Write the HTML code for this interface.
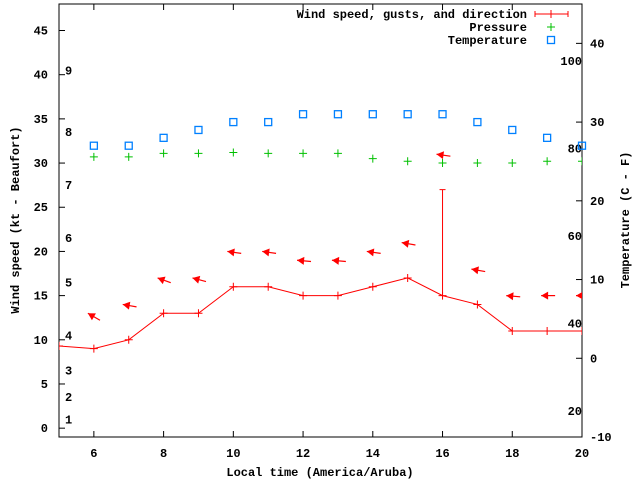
<!DOCTYPE html>
<html><head><meta charset="utf-8"><style>
body{margin:0;background:#fff}
svg{display:block;font-family:"Liberation Mono",monospace;font-size:12px;font-weight:bold}
</style></head><body>
<svg id="c" width="640" height="480"></svg>
<script>
const hours=[4,5,6,7,8,9,10,11,12,13,14,15,16,17,18,19,20];
const windSpeed=[9.6,9.3,9,10,13,13,16,16,15,15,16,17,15,14,11,11,11];
const gustHours=[16];
const gustValues=[27];
const arrowHours=[6,7,8,9,10,11,12,13,14,15,16,17,18,19,20];
const arrowLevels=[13,14,17,17,20,20,19,19,20,21,31,18,15,15,15];
const arrowAngles=[30,10,20,15,8,8,5,5,8,10,8,10,5,0,0];
const pressHours=[6,7,8,9,10,11,12,13,14,15,16,17,18,19,20];
const pressure=[30.7,30.7,31.1,31.1,31.2,31.1,31.1,31.1,30.5,30.2,30.0,30.0,30.0,30.2,30.2];
const tempC=[27,27,28,29,30,30,31,31,31,31,31,30,29,28,27];
const xTicks=[6,8,10,12,14,16,18,20];
const yTicks=[0,5,10,15,20,25,30,35,40,45];
const y2Ticks=[-10,0,10,20,30,40];
const beaufortLabels=["1","2","3","4","5","6","7","8","9"];
const beaufortKt=[1,3.5,6.5,10.5,16.5,21.5,27.5,33.5,40.5];
const fLabels=[20,40,60,80,100];

const L=59,R=582,T=4,B=437;
const X=v=>L+(v-5)/(20-5)*(R-L);
const Y=v=>B-(v+1)/(48+1)*(B-T);
const Y2=v=>B-(v+10)/(45+10)*(B-T);
const YF=f=>Y2((f-32)*5/9);
const svg=document.getElementById('c');
const NS='http://www.w3.org/2000/svg';
function el(tag,attrs,parent){const e=document.createElementNS(NS,tag);for(const k in attrs)e.setAttribute(k,attrs[k]);(parent||svg).appendChild(e);return e;}
function txt(x,y,s,anchor,name,parent){const t=el('text',{x:x,y:y,'text-anchor':anchor||'middle'},parent);t.textContent=s;


return t;}

const defs=el('defs',{});
const cp=el('clipPath',{id:'clip'},defs);el('rect',{x:L,y:T,width:R-L,height:B-T},cp);

// frame
const frame=el('rect',{x:L,y:T,width:R-L,height:B-T,fill:'none',stroke:'#000','stroke-width':1});



xTicks.forEach(v=>{const x=X(v);
el('line',{x1:x,y1:B,x2:x,y2:B-6,stroke:'#000'});el('line',{x1:x,y1:T,x2:x,y2:T+6,stroke:'#000'});
txt(x,457,String(v),'middle','x-tick-label');});
yTicks.forEach(v=>{const y=Y(v);el('line',{x1:L,y1:y,x2:L+6,y2:y,stroke:'#000'});
txt(48,y+4,String(v),'end','y-tick-label');});
y2Ticks.forEach(v=>{const y=Y2(v);el('line',{x1:R,y1:y,x2:R-6,y2:y,stroke:'#000'});
txt(590,y+4,String(v),'start','y2-tick-label');});
beaufortLabels.forEach((s,i)=>txt(65,Y(beaufortKt[i])+4,s,'start','beaufort-label'));
fLabels.forEach(f=>txt(582,YF(f)+4,String(f),'end','fahrenheit-label'));

// titles
let t=txt(0,0,'Wind speed (kt - Beaufort)','middle','y-axis-title');t.setAttribute('transform','translate(19,220) rotate(-90)');
t=txt(0,0,'Temperature (C - F)','middle','y2-axis-title');t.setAttribute('transform','translate(629,220) rotate(-90)');
txt(320,476,'Local time (America/Aruba)','middle','x-axis-title');

const g=el('g',{'clip-path':'url(#clip)'});
// wind line
const pl=el('polyline',{points:hours.map((h,i)=>X(h)+','+Y(windSpeed[i])).join(' '),fill:'none',stroke:'#f00','stroke-width':1},g);


hours.forEach((h,i)=>{const x=X(h),y=Y(windSpeed[i]);
el('path',{d:`M${x-4},${y}h8M${x},${y-4}v8`,stroke:'#f00'},g);});
gustHours.forEach((h,i)=>{const x=X(h);const idx=hours.indexOf(h);
const gl=el('path',{d:`M${x},${Y(windSpeed[idx])}V${Y(gustValues[i])}M${x-3},${Y(gustValues[i])}h6`,stroke:'#f00'},g);

});
// arrows
arrowHours.forEach((h,i)=>{const a=arrowAngles[i]*Math.PI/180;const hx=X(h)-6,hy=Y(arrowLevels[i]);
const len=14;const tx=hx+len*Math.cos(a),ty=hy+len*Math.sin(a);
const ar=el('g',{},g);


el('line',{x1:hx,y1:hy,x2:tx,y2:ty,stroke:'#f00','stroke-width':1.2},ar);
const px=-Math.sin(a),py=Math.cos(a),cx=Math.cos(a),cy=Math.sin(a);
el('polygon',{points:`${hx},${hy} ${hx+7*cx+4*px},${hy+7*cy+4*py} ${hx+7*cx-4*px},${hy+7*cy-4*py}`,fill:'#f00'},ar);});
// pressure
pressHours.forEach((h,i)=>{const x=X(h),y=Y(pressure[i]);
const p=el('path',{d:`M${x-4},${y}h8M${x},${y-4}v8`,stroke:'#00c000','stroke-width':1},g);

});
// temperature
pressHours.forEach((h,i)=>{const x=X(h),y=Y2(tempC[i]);
const r=el('rect',{x:x-3.5,y:y-3.5,width:7,height:7,fill:'none',stroke:'#0080ff','stroke-width':1.3});

});

// legend
const lg=el('g',{});


txt(527,18,'Wind speed, gusts, and direction','end','legend-wind',lg);
el('path',{d:'M535,14h33M535,11v6M568,11v6M551,10v8',stroke:'#f00'},lg);
txt(527,31,'Pressure','end','legend-pressure',lg);
el('path',{d:'M547,27h8M551,23v8',stroke:'#00c000'},lg);
txt(527,44,'Temperature','end','legend-temperature',lg);
el('rect',{x:547.5,y:36.5,width:7,height:7,fill:'none',stroke:'#0080ff','stroke-width':1.3},lg);
</script>
</body></html>
